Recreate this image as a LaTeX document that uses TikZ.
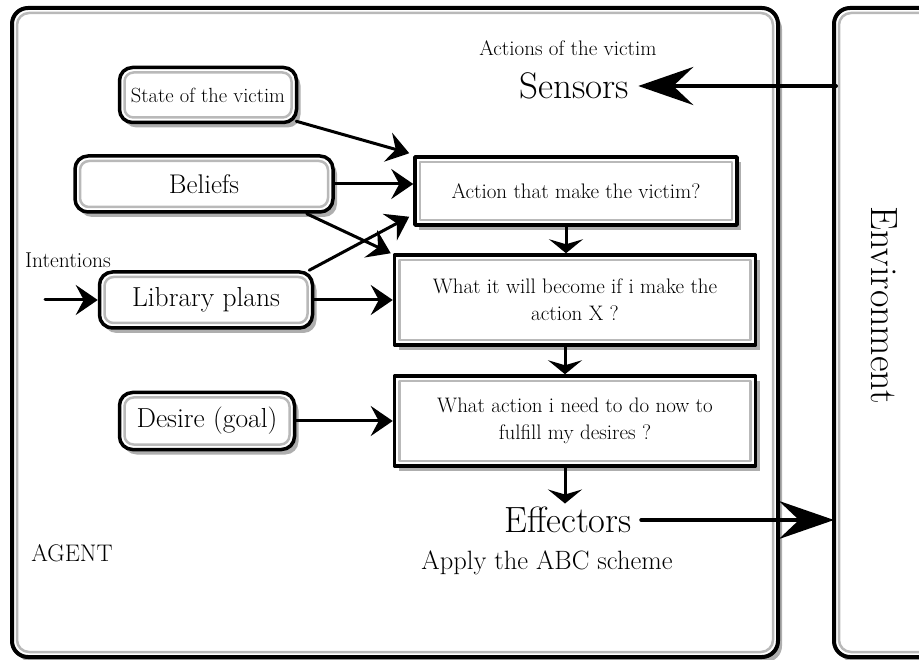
\documentclass[tikz,border=0pt]{standalone}
\usepackage{tikz}
\usetikzlibrary{arrows.meta,shadows}

\tikzset{
  bevel/.style={path picture={
      \draw[gray!55, line width=2.5pt, rounded corners=#1]
        ([shift={(5pt,-5pt)}]path picture bounding box.north west) rectangle
        ([shift={(-5pt,5pt)}]path picture bounding box.south east);}},
  shade/.style={drop shadow={shadow xshift=4pt, shadow yshift=-5pt, fill=black!70, opacity=.45}},
  roundbox/.style={draw, line width=3.5pt, rounded corners=13pt, fill=white, shade, bevel=9pt,
    inner sep=2pt},
  qbox/.style={draw, line width=3.5pt, fill=white, shade, bevel=0pt, align=center,
    minimum width=361pt, minimum height=90pt, font=\fs{21}{27}},
  feed/.style={line width=3pt, -{Stealth[length=22pt, width=30pt, inset=8pt]}},
  down/.style={line width=3pt, -{Stealth[length=14pt, width=34pt, inset=5pt]}},
  bigarrow/.style={line width=4pt, -{Stealth[length=55pt, width=38pt, inset=20pt]}},
  frame/.style={line width=4pt, rounded corners=16pt, shade},
}
\newcommand{\fs}[2]{\fontsize{#1}{#2}\selectfont}

\begin{document}
\begin{tikzpicture}[x=1pt, y=-1pt, line cap=round, line join=round]
  \useasboundingbox (0,0) rectangle (919,660);
  % frames
  \draw[frame, fill=white] (12,8) rectangle (778,657);
  \draw[gray!55, line width=2.5pt, rounded corners=12pt] (17,13) rectangle (773,652);
  \draw[frame, fill=white] (834,8) rectangle (960,657);
  \draw[gray!55, line width=2.5pt, rounded corners=12pt] (839,13) rectangle (960,652);
  \node (env) [rotate=-90] at (884,305) {\fs{38}{44}Environment};

  % inputs
  \node (state) [roundbox, minimum width=177pt, minimum height=55pt] at (208,95) {\fs{20.5}{24}State of the victim};
  \node (beliefs) [roundbox, minimum width=258pt, minimum height=56pt] at (204,184) {\fs{27}{32}Beliefs};
  \node (library) [roundbox, minimum width=213pt, minimum height=56pt] at (206,300) {\fs{27.5}{32}Library plans};
  \node (desire) [roundbox, minimum width=175pt, minimum height=57pt] at (207,421) {\fs{27.5}{32}Desire (goal)};
  \node (intent) at (68,260) {\fs{21.5}{25}Intentions};
  \node (agent) at (72,553) {\fs{24}{28}AGENT};

  % reasoning steps
  \node (act) [qbox, minimum width=322pt, minimum height=68pt] at (576,191) {Action that make the victim?};
  \node (what) [qbox] at (575,300) {What it will become if i make the\\action X ?};
  \node (need) [qbox] at (575,421) {What action i need to do now to\\fulfill my desires ?};

  \node (actions) at (568,48) {\fs{21}{25}Actions of the victim};
  \node (sensors) at (574,86) {\fs{37}{42}Sensors};
  \node (eff) at (568,520) {\fs{36.5}{42}Effectors};
  \node (abc) at (547,563) {\fs{26.5}{31}Apply the ABC scheme};

  \coordinate (envS) at (836,88);
  \coordinate (envE) at (834,523);
  \coordinate (intin) at (45,300);

  % arrows
  \draw[bigarrow] (sensors.east -| envS) -- ([xshift=6pt]sensors.east);
  \draw[bigarrow] ([xshift=6pt]eff.east) -- (eff.east -| envE);
  \draw[feed] (intin) -- (library.west);
  \draw[feed] ([shift={(-2pt,3pt)}]state.south east) -- ([shift={(-4pt,2pt)}]act.north west);
  \draw[feed] (beliefs.east) -- (act.west |- beliefs.east);
  \draw[feed] ([xshift=-28pt]beliefs.south east) -- ([xshift=-2pt]what.north west);
  \draw[feed] ([xshift=-5pt]library.north east) -- ([shift={(-4pt,10pt)}]act.south west);
  \draw[feed] (library.east) -- (what.west |- library.east);
  \draw[feed] (desire.east) -- (need.west |- desire.east);
  \draw[down] ([xshift=-10pt]act.south) -- ([xshift=-10pt]act.south |- what.north);
  \draw[down] ([xshift=-10pt]what.south) -- ([xshift=-10pt]what.south |- need.north);
  \draw[down] ([xshift=-10pt]need.south) -- ([xshift=-3pt]eff.north);
\end{tikzpicture}
\end{document}
